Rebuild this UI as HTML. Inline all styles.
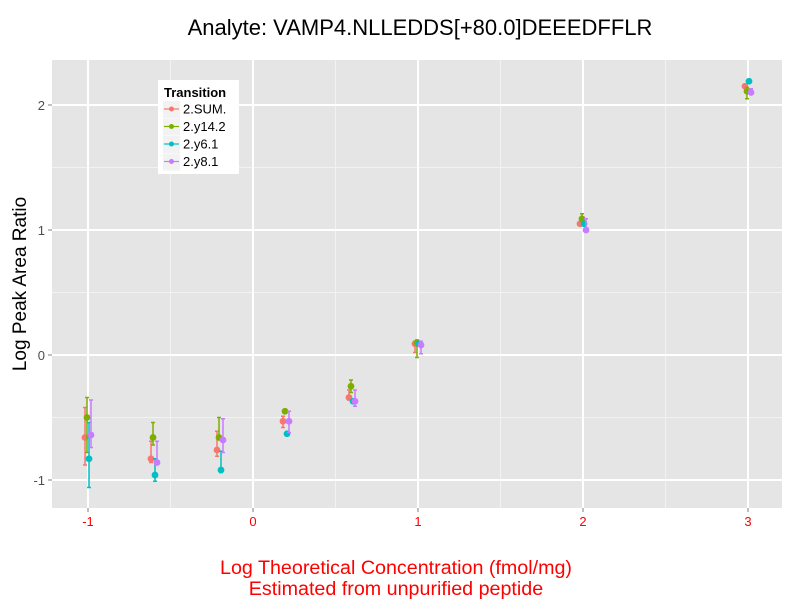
<!DOCTYPE html>
<html><head><meta charset="utf-8"><style>
body{margin:0;background:#fff;font-family:"Liberation Sans",sans-serif}
</style></head><body>
<svg id="chart" width="800" height="600" xmlns="http://www.w3.org/2000/svg">
<text x="420" y="35" font-size="22" text-anchor="middle">Analyte: VAMP4.NLLEDDS[+80.0]DEEEDFFLR</text>
<rect x="52" y="60" width="730" height="448" fill="#e5e5e5"/>
<g id="grid"></g>
<g id="marks"></g>
<text transform="translate(26,284) rotate(-90)" font-size="19" text-anchor="middle">Log Peak Area Ratio</text>
<text x="396" y="574" font-size="19.7" fill="#ff0000" text-anchor="middle">Log Theoretical Concentration (fmol/mg)</text>
<text x="396" y="595" font-size="19.7" fill="#ff0000" text-anchor="middle">Estimated from unpurified peptide</text>
<g>
<rect x="158" y="80" width="81" height="94" fill="#fff"/>
<text x="164" y="97" font-size="13" font-weight="bold">Transition</text>
<g id="legend-items"></g>
</g>
</svg>
<script>
const xCats=[-1,-0.6,-0.2,0.2,0.6,1,2,3];
const seriesNames=["2.SUM.","2.y14.2","2.y6.1","2.y8.1"];
const colors=["#F8766D","#7CAE00","#00BFC4","#C77CFF"];
const sumVals=[-0.66,-0.83,-0.76,-0.53,-0.34,0.09,1.05,2.15];
const sumLo=[-0.88,-0.86,-0.81,-0.58,-0.36,0.02,1.04,2.14];
const sumHi=[-0.42,-0.69,-0.61,-0.49,-0.28,0.11,1.06,2.16];
const y14Vals=[-0.50,-0.66,-0.66,-0.45,-0.25,0.10,1.09,2.11];
const y14Lo=[-0.78,-0.72,-0.66,-0.46,-0.30,-0.02,1.07,2.05];
const y14Hi=[-0.34,-0.54,-0.50,-0.44,-0.20,0.12,1.13,2.14];
const y6Vals=[-0.83,-0.96,-0.92,-0.63,-0.37,0.09,1.05,2.19];
const y6Lo=[-1.06,-1.01,-0.94,-0.64,-0.38,0.08,1.04,2.18];
const y6Hi=[-0.54,-0.83,-0.77,-0.62,-0.36,0.10,1.06,2.20];
const y8Vals=[-0.64,-0.86,-0.68,-0.53,-0.37,0.08,1.00,2.10];
const y8Lo=[-0.74,-0.86,-0.78,-0.62,-0.41,0.01,0.99,2.09];
const y8Hi=[-0.36,-0.69,-0.51,-0.45,-0.28,0.11,1.09,2.13];
const xTicks=[-1,0,1,2,3];
const yTicks=[-1,0,1,2];
const NS="http://www.w3.org/2000/svg";
const sx=v=>253+v*165, sy=v=>355-v*125;
function mk(tag,attrs,parent){const e=document.createElementNS(NS,tag);for(const k in attrs)e.setAttribute(k,attrs[k]);parent.appendChild(e);return e;}
const grid=document.getElementById('grid'), svg=document.getElementById('chart');
[-0.5,0.5,1.5,2.5].forEach(v=>mk('line',{x1:sx(v),x2:sx(v),y1:60,y2:508,stroke:'#f2f2f2','stroke-width':1},grid));
[-0.5,0.5,1.5].forEach(v=>mk('line',{x1:52,x2:782,y1:sy(v),y2:sy(v),stroke:'#f2f2f2','stroke-width':1},grid));
xTicks.forEach(v=>{
 mk('line',{x1:sx(v),x2:sx(v),y1:60,y2:508,stroke:'#fff','stroke-width':2},grid);
 mk('line',{x1:sx(v),x2:sx(v),y1:508,y2:512,stroke:'#7f7f7f'},svg);
 const t=mk('text',{x:sx(v),y:526,'font-size':13,fill:'#ff0000','text-anchor':'middle'},svg);t.textContent=v;
 
 
});
yTicks.forEach(v=>{
 mk('line',{x1:52,x2:782,y1:sy(v),y2:sy(v),stroke:'#fff','stroke-width':2},grid);
 mk('line',{x1:48,x2:52,y1:sy(v),y2:sy(v),stroke:'#7f7f7f'},svg);
 const t=mk('text',{x:45,y:sy(v)+5,'font-size':13,fill:'#4d4d4d','text-anchor':'end'},svg);t.textContent=v;
 
 
});
const vals=[sumVals,y14Vals,y6Vals,y8Vals],los=[sumLo,y14Lo,y6Lo,y8Lo],his=[sumHi,y14Hi,y6Hi,y8Hi];
const offs=[-3,-1,1,3];
const marks=document.getElementById('marks');
vals.forEach((vs,s)=>{
 const g=mk('g',{},marks);
 
 
 vs.forEach((v,i)=>{
  const x=sx(xCats[i])+offs[s];
  mk('line',{x1:x,x2:x,y1:sy(los[s][i]),y2:sy(his[s][i]),stroke:colors[s],'stroke-width':1.5},g);
  mk('line',{x1:x-2,x2:x+2,y1:sy(los[s][i]),y2:sy(los[s][i]),stroke:colors[s],'stroke-width':1.5},g);
  mk('line',{x1:x-2,x2:x+2,y1:sy(his[s][i]),y2:sy(his[s][i]),stroke:colors[s],'stroke-width':1.5},g);
  const c=mk('circle',{cx:x,cy:sy(v),r:3.4,fill:colors[s]},g);
  
  
 });
});
const li=document.getElementById('legend-items');
seriesNames.forEach((n,s)=>{
 const y=109+s*17.5;
 mk('rect',{x:163,y:y-8,width:17,height:17,fill:'#f2f2f2'},li);
 mk('line',{x1:164,x2:179,y1:y,y2:y,stroke:colors[s],'stroke-width':1.2},li);
 mk('circle',{cx:171.5,cy:y,r:2.5,fill:colors[s]},li);
 const t=mk('text',{x:183,y:y+4.5,'font-size':13},li);t.textContent=n;
 
 
});
</script>
</body></html>
